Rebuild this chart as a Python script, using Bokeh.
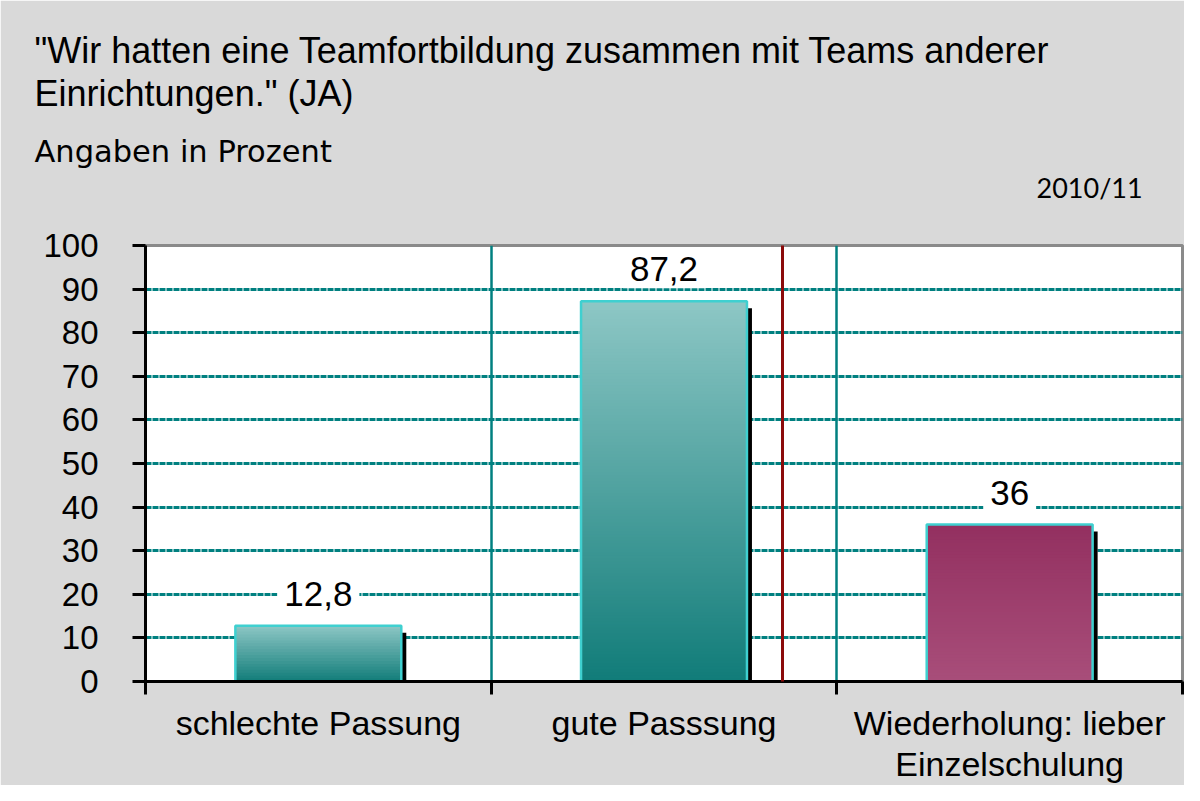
from bokeh.plotting import figure
from bokeh.models import (ColumnDataSource, FixedTicker, Label, Arrow, Range1d, Title)
from bokeh.embed import file_html
from bokeh.resources import INLINE

# ---------------- data ----------------
categories = ["schlechte Passung", "gute Passsung", "Wiederholung: lieber\nEinzelschulung"]
values = [12.8, 87.2, 36.0]
value_labels = [f"{v:g}".replace(".", ",") for v in values]
y_ticks = [0, 10, 20, 30, 40, 50, 60, 70, 80, 90, 100]
grad_top = ["#8DC7C5", "#8DC7C5", "#933060"]
grad_bottom = ["#117C79", "#117C79", "#A84E7A"]

TITLE_1 = '"Wir hatten eine Teamfortbildung zusammen mit Teams anderer'
TITLE_2 = 'Einrichtungen." (JA)'
SUBTITLE = "Angaben in Prozent"
YEAR = "2010/11"

# ---------------- layout ----------------
W, H = 1184, 785
PAGE = 8
FL, FR, FT, FB = 153, 1190, 253, 689   # frame edges in page px
X0, X1 = 0, len(categories)
Y0, Y1 = 0, 100


def dx(px):
    return X0 + (px - FL) / (FR - FL) * (X1 - X0)


def dy(py):
    return Y0 + (FB - py) / (FB - FT) * (Y1 - Y0)


p = figure(width=W, height=H, x_range=Range1d(X0, X1), y_range=Range1d(Y0, Y1),
           output_backend="svg", toolbar_location=None,
           min_border_left=FL - PAGE, min_border_right=PAGE + W - FR,
           min_border_top=FT - PAGE, min_border_bottom=PAGE + H - FB,
           background_fill_color="white", border_fill_color="#D9D9D9")
try:
    p.title_location = None
except Exception:
    p.title.text = ""
p.outline_line_color = "#8A8A8A"
p.outline_line_width = 3

# grids
p.ygrid.ticker = FixedTicker(ticks=y_ticks[1:-1])
p.ygrid.grid_line_color = "#008080"
p.ygrid.grid_line_width = 3
p.ygrid.grid_line_dash = "6 1"
p.xgrid.ticker = FixedTicker(ticks=list(range(1, len(categories))))
p.xgrid.grid_line_color = "#008080"
p.xgrid.grid_line_width = 2.5

# y axis
p.yaxis.ticker = FixedTicker(ticks=y_ticks)
p.yaxis.axis_line_width = 3
p.yaxis.axis_line_color = "black"
p.yaxis.major_tick_out = 13
p.yaxis.major_tick_in = 0
p.yaxis.major_tick_line_width = 3
p.yaxis.minor_tick_line_color = None
p.yaxis.major_label_text_font = "Liberation Sans"
p.yaxis.major_label_text_font_size = "33px"
p.yaxis.major_label_text_color = "black"
p.yaxis.major_label_standoff = 34

# x axis: labels at centers, ticks at category boundaries
centers = [i + 0.5 for i in range(len(categories))]
p.xaxis.ticker = FixedTicker(ticks=centers, minor_ticks=list(range(len(categories) + 1)))
p.xaxis.major_label_overrides = {c: lab for c, lab in zip(centers, categories)}
p.xaxis.axis_line_width = 3
p.xaxis.axis_line_color = "black"
p.xaxis.major_tick_out = 0
p.xaxis.major_tick_in = 0
p.xaxis.major_tick_line_color = None
p.xaxis.minor_tick_out = 13
p.xaxis.minor_tick_in = 0
p.xaxis.minor_tick_line_width = 3
p.xaxis.minor_tick_line_color = "black"
p.xaxis.major_label_text_font = "Liberation Sans"
p.xaxis.major_label_text_font_size = "34px"
p.xaxis.major_label_text_line_height = 1.08
p.xaxis.major_label_text_color = "black"
p.xaxis.major_label_standoff = 9

# ---------------- bars ----------------
BAR_W = 0.48
SH_DX = 5 / (FR - FL) * (X1 - X0)
SH_DY = 7 / (FB - FT) * (Y1 - Y0)
PX_PER_UNIT = (FB - FT) / (Y1 - Y0)


def hex2rgb(h):
    h = h.lstrip("#")
    return [int(h[i:i + 2], 16) for i in (0, 2, 4)]


def lerp(c0, c1, t):
    a, b = hex2rgb(c0), hex2rgb(c1)
    return "#%02x%02x%02x" % tuple(int(round(a[i] + (b[i] - a[i]) * t)) for i in range(3))


# shadows
p.quad(left=[c - BAR_W / 2 + SH_DX for c in centers], right=[c + BAR_W / 2 + SH_DX for c in centers],
       bottom=[0] * len(values), top=[v - SH_DY for v in values],
       fill_color="black", line_color=None)

# gradient fill (painter's order: each band covers from its bottom up to the bar top)
gl, gr, gb, gt, gc = [], [], [], [], []
for c, v, ct, cb in zip(centers, values, grad_top, grad_bottom):
    n = max(2, int(round(v * PX_PER_UNIT / 3)))
    for k in range(n):
        gl.append(c - BAR_W / 2)
        gr.append(c + BAR_W / 2)
        gb.append(v * k / n)
        gt.append(v)
        gc.append(lerp(cb, ct, (k + 0.5) / n))
p.quad(source=ColumnDataSource(dict(left=gl, right=gr, bottom=gb, top=gt, color=gc)),
       left="left", right="right", bottom="bottom", top="top",
       fill_color="color", line_color=None)

# bar outlines
p.quad(left=[c - BAR_W / 2 for c in centers], right=[c + BAR_W / 2 for c in centers],
       bottom=[0] * len(values), top=values,
       fill_color=None, line_color="#3FD0D0", line_width=2.5)

# value labels
for c, v, t in zip(centers, values, value_labels):
    p.add_layout(Label(x=c, y=v, text=t, y_offset=32, text_align="center",
                       text_baseline="alphabetic", text_font="Liberation Sans",
                       text_font_size="35px", text_color="black",
                       background_fill_color="white", padding=7))

# red vertical marker line (inside the plot area)
p.add_layout(Arrow(end=None, x_start=dx(790), y_start=dy(200), x_end=dx(790), y_end=dy(748),
                   line_color="#8B0A0A", line_width=3))

# ---------------- titles (stacked above the plot area, nearest first) ----------------
FRAME_LEFT_FIG = FL - PAGE


def add_title(text, font, size, page_x, standoff):
    t = Title(text=text, align="left", offset=page_x - PAGE - FRAME_LEFT_FIG,
              text_font=font, text_font_size=size, text_font_style="normal",
              text_color="black", vertical_align="bottom", standoff=standoff)
    p.add_layout(t, "above")


add_title(" ", "Liberation Sans", "10px", 42, 29)          # spacing
add_title(YEAR, "Lato", "27px", 1044, 0)
add_title(SUBTITLE, "DejaVu Sans", "30.5px", 42, 0)
add_title(" ", "Liberation Sans", "10px", 42, 5)           # spacing
add_title(TITLE_2, "Liberation Sans", "36px", 42, 0)
add_title(TITLE_1, "Liberation Sans", "36px", 42, 0)

open("out.html", "w").write(file_html(p, INLINE))
